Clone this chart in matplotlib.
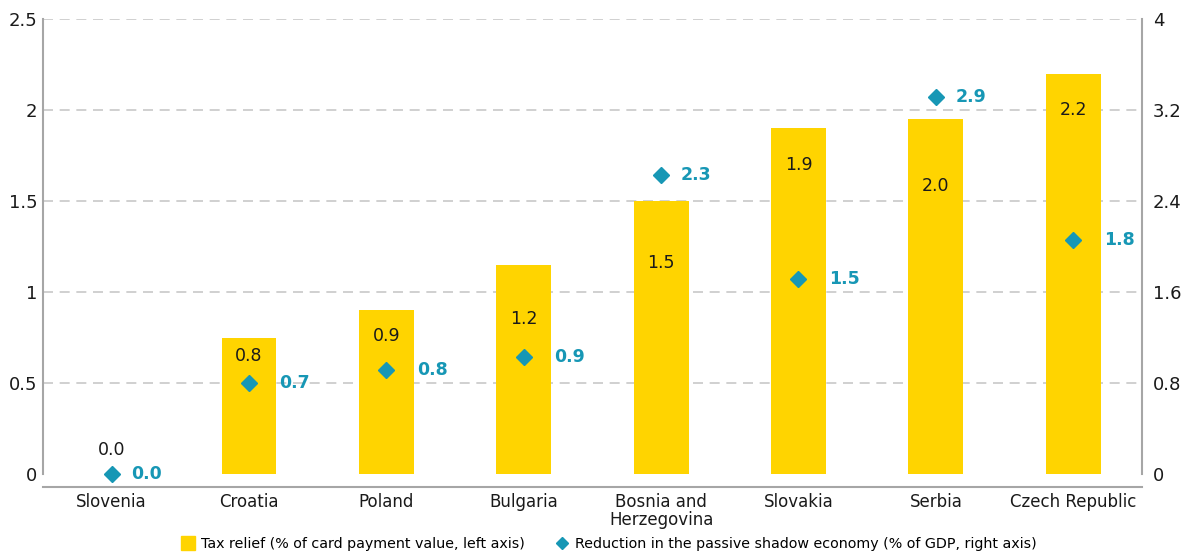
import matplotlib.pyplot as plt
from matplotlib.lines import Line2D

countries = ["Slovenia", "Croatia", "Poland", "Bulgaria", "Bosnia and\nHerzegovina",
             "Slovakia", "Serbia", "Czech Republic"]
tax_relief = [0.0, 0.75, 0.9, 1.15, 1.5, 1.9, 1.95, 2.2]
tax_labels = ["0.0", "0.8", "0.9", "1.2", "1.5", "1.9", "2.0", "2.2"]
shadow_reduction = [0.0, 0.7, 0.8, 0.9, 2.3, 1.5, 2.9, 1.8]

left_ticks = [0, 0.5, 1, 1.5, 2, 2.5]
right_ticks = [0, 0.8, 1.6, 2.4, 3.2, 4]

YELLOW = "#FFD400"
TEAL = "#1797B5"
GRID = "#C8C8C8"
SPINE = "#A6A6A6"

# where the value text sits inside each bar (left-axis units)
bar_text_y = [0.13, 0.65, 0.76, 0.85, 1.16, 1.70, 1.58, 2.0]

plt.rcParams["font.family"] = ["DejaVu Sans"]

fig = plt.figure(figsize=(11.92, 5.54), dpi=100)
ax = fig.add_axes([0.036, 0.1444, 0.922, 0.8213])
x = list(range(len(countries)))

ax.bar(x, tax_relief, width=0.4, color=YELLOW, zorder=2)
for i, (yt, s) in enumerate(zip(bar_text_y, tax_labels)):
    ax.text(i, yt, s, ha="center", va="center", fontsize=12.5, color="#1a1a1a", zorder=4)

for side in ["top", "right"]:
    ax.spines[side].set_visible(False)
ax.spines["left"].set_color(SPINE)
ax.spines["left"].set_linewidth(1.5)
ax.spines["bottom"].set_color(SPINE)
ax.spines["bottom"].set_linewidth(1.5)
ax.spines["bottom"].set_position(("outward", 9))

# right-hand axis scale
axr = ax.twinx()
axr.set_ylim(0, 4)
axr.set_yticks(right_ticks)
axr.set_yticklabels(["0", "0.8", "1.6", "2.4", "3.2", "4"])
axr.tick_params(axis="y", length=0, pad=8, colors="#1a1a1a", labelsize=13)
for side in ["top", "left", "bottom"]:
    axr.spines[side].set_visible(False)
axr.spines["right"].set_color(SPINE)
axr.spines["right"].set_linewidth(1.5)

# diamonds for the shadow economy series
DIA_TOP = 3.5
axd = ax.twinx()
axd.set_ylim(0, DIA_TOP)
axd.axis("off")
axd.plot(x, shadow_reduction, ls="none", marker="D", ms=8.5, color=TEAL,
         zorder=5, clip_on=False)
for i, v in enumerate(shadow_reduction):
    # labels sitting over a bar get pushed clear of its right edge
    on_bar = v / DIA_TOP * 2.5 < tax_relief[i]
    dx = 22 if on_bar else 14
    axd.annotate(f"{v:.1f}", (i, v), xytext=(dx, 0), textcoords="offset points",
                 ha="left", va="center", fontsize=12.5, fontweight="bold", color=TEAL)

ax.set_xlim(-0.5, len(countries) - 0.5)
ax.set_ylim(0, 2.5)
ax.set_yticks(left_ticks)
ax.set_yticklabels(["0", "0.5", "1", "1.5", "2", "2.5"])
for t in left_ticks[1:]:
    ax.axhline(t, color=GRID, lw=1.2, ls=(0, (6, 4)), zorder=1)
ax.set_xticks(x)
ax.set_xticklabels(countries, linespacing=0.95)
ax.tick_params(axis="y", length=0, colors="#1a1a1a", labelsize=13, pad=4)
ax.tick_params(axis="x", length=0, colors="#1a1a1a", labelsize=12, pad=5)

handles = [
    Line2D([], [], ls="none", marker="s", ms=10, color=YELLOW),
    Line2D([], [], ls="none", marker="D", ms=6.5, color=TEAL),
]
fig.legend(handles,
           ["Tax relief (% of card payment value, left axis)",
            "Reduction in the passive shadow economy (% of GDP, right axis)"],
           loc="lower center", bbox_to_anchor=(0.51, -0.018), ncol=2, frameon=False,
           fontsize=10.3, handletextpad=0.3, columnspacing=2.0, handlelength=1.2)

fig.savefig("out.png", dpi=100)
